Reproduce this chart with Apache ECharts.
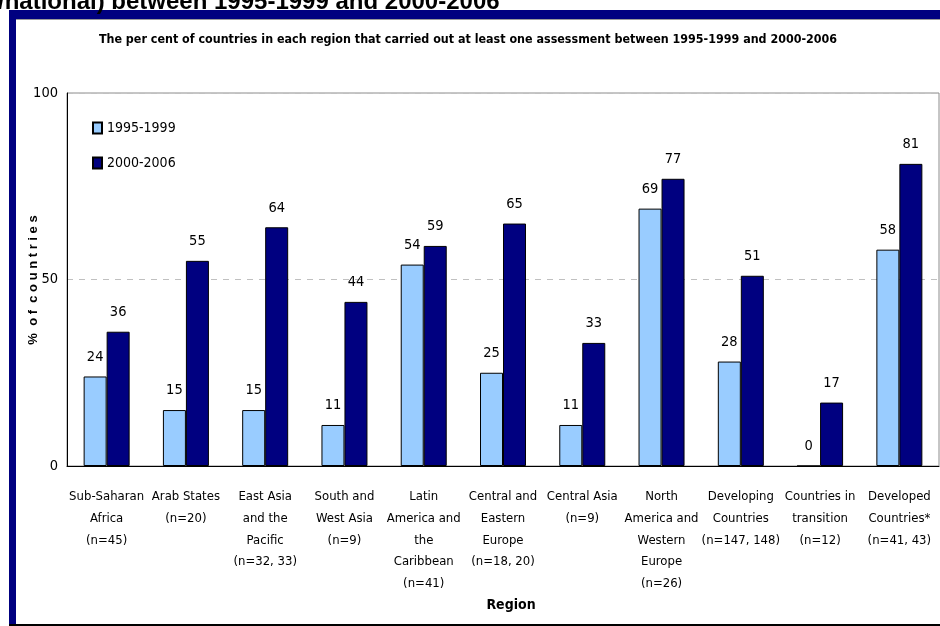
<!DOCTYPE html>
<html><head><meta charset="utf-8">
<script src="https://cdn.jsdelivr.net/npm/echarts@6/dist/echarts.min.js"></script>
<style>html,body{margin:0;padding:0;background:#fff}#c{width:940px;height:626px}</style>
</head><body><div id="c"></div>
<script>
const categories = [
  'Sub-Saharan\nAfrica\n(n=45)',
  'Arab States\n(n=20)',
  'East Asia\nand the\nPacific\n(n=32, 33)',
  'South and\nWest Asia\n(n=9)',
  'Latin\nAmerica and\nthe\nCaribbean\n(n=41)',
  'Central and\nEastern\nEurope\n(n=18, 20)',
  'Central Asia\n(n=9)',
  'North\nAmerica and\nWestern\nEurope\n(n=26)',
  'Developing\nCountries\n(n=147, 148)',
  'Countries in\ntransition\n(n=12)',
  'Developed\nCountries*\n(n=41, 43)'
];
const series1995 = [24, 15, 15, 11, 54, 25, 11, 69, 28, 0, 58];
const series2000 = [36, 55, 64, 44, 59, 65, 33, 77, 51, 17, 81];
const yTicks = [0, 50, 100];

const F = "'DejaVu Sans Condensed','Liberation Sans Narrow','Arial Narrow',sans-serif";
const chart = echarts.init(document.getElementById('c'));
const lbl = {show:true, position:'top', distance:12, color:'#000', fontFamily:F, fontSize:14.5};
chart.setOption({
  animation:false,
  backgroundColor:'#fff',
  grid:{left:67, right:1, top:93, bottom:160, show:true, borderColor:'#8c8c8c', borderWidth:1, backgroundColor:'transparent'},
  legend:{
    orient:'vertical', left:87, top:116, itemWidth:9, itemHeight:11, itemGap:21,
    icon:'rect',
    textStyle:{fontFamily:F, fontSize:14, color:'#000'},
    data:['1995-1999','2000-2006']
  },
  xAxis:{
    type:'category', data:categories,
    axisLine:{lineStyle:{color:'#000', width:1}},
    axisTick:{show:false},
    axisLabel:{interval:0, fontFamily:F, fontSize:13, color:'#000', lineHeight:21.7, margin:20, align:'center'}
  },
  yAxis:{
    type:'value', min:0, max:100, interval:50,
    axisLine:{show:true, lineStyle:{color:'#000'}},
    axisTick:{show:false},
    axisLabel:{fontFamily:F, fontSize:14.5, color:'#000', margin:9,
      formatter:v => yTicks.includes(v) ? String(v) : ''},
    splitLine:{show:true, lineStyle:{color:'#c0c0c0', type:[6,6], width:1}}
  },
  series:[
    {name:'1995-1999', type:'bar', data:series1995, barWidth:23, barGap:'0%',
     itemStyle:{color:'#99ccff', borderColor:'#000', borderWidth:1}, label:lbl},
    {name:'2000-2006', type:'bar', data:series2000, barWidth:23,
     itemStyle:{color:'#000080', borderColor:'#000', borderWidth:1}, label:lbl}
  ],
  graphic:[
    {type:'rect', shape:{x:9, y:10, width:931, height:9}, style:{fill:'#000080'}, z:100},
    {type:'rect', shape:{x:9, y:19, width:931, height:1}, style:{fill:'#999'}, z:100},
    {type:'rect', shape:{x:9, y:10, width:7, height:616}, style:{fill:'#000080'}, z:100},
    {type:'rect', shape:{x:9, y:624, width:931, height:2}, style:{fill:'#000'}, z:100},
    {type:'text', left:-2, top:-10, style:{text:'/national) between 1995-1999 and 2000-2006', fill:'#000', font:"bold 24px 'Liberation Sans', Arial, sans-serif"}, z:100},
    {type:'text', x:468, y:40, style:{text:'The per cent of countries in each region that carried out at least one assessment between 1995-1999 and 2000-2006', fill:'#000', font:"bold 12.4px 'DejaVu Sans Condensed','Liberation Sans Narrow',sans-serif", align:'center', verticalAlign:'middle'}, z:100},
    {type:'text', x:511, y:605, style:{text:'Region', fill:'#000', font:"bold 14px 'DejaVu Sans Condensed','Liberation Sans Narrow',sans-serif", align:'center', verticalAlign:'middle'}, z:100},
    {type:'text', x:33, y:280, rotation:Math.PI/2, style:{text:'%  o f  c o u n t r i e s', fill:'#000', font:"bold 13px 'Liberation Sans', Arial, sans-serif", align:'center', verticalAlign:'middle'}, z:100}
  ]
});
</script></body></html>
